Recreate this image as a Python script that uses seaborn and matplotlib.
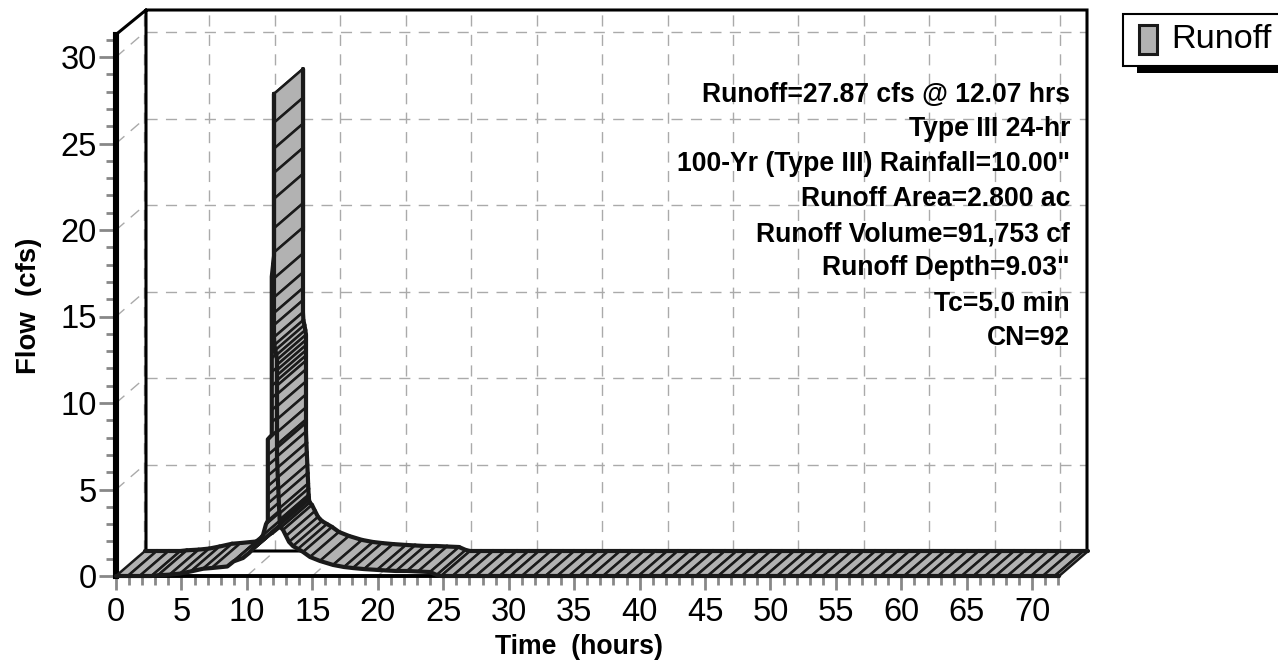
import matplotlib
matplotlib.use("Agg")
import matplotlib.pyplot as plt
from matplotlib.patches import Rectangle
import pandas as pd
import seaborn as sns

# hydrograph, one entry per drawn segment boundary
rise_hours = [0.0, 0.9, 1.8, 2.7, 3.2, 4.1, 4.9, 5.7, 6.65, 7.3, 8.5, 9.0, 9.7, 10.2, 10.7, 11.23, 11.46,
              11.6, 11.6, 11.6, 11.6, 11.6, 11.6, 11.6, 11.6, 11.6, 11.9, 11.9, 11.9, 11.9, 11.9, 11.9,
              11.9, 11.9, 11.9, 11.9, 12.07, 12.07]
rise_cfs = [0.0, 0.0, 0.0, 0.0, 0.04, 0.08, 0.14, 0.26, 0.42, 0.46, 0.55, 0.85, 1.04, 1.35, 1.8, 2.37, 3.0,
            3.2, 3.7, 4.2, 4.7, 5.2, 5.8, 6.4, 7.0, 7.9, 8.15, 8.9, 9.6, 10.3, 11.0, 11.8,
            12.6, 13.6, 15.0, 17.3, 18.5, 27.87]
fall_hours = [12.07, 12.07, 12.07, 12.07, 12.07, 12.07, 12.07, 12.07, 12.07, 12.07, 12.07, 12.1, 12.18, 12.25,
              12.3, 12.3, 12.3, 12.3, 12.3, 12.3, 12.3, 12.3, 12.3, 12.3, 12.3, 12.3, 12.3, 12.33,
              12.36, 12.4, 12.43, 12.46, 12.48, 12.5, 12.52, 12.53, 12.6, 12.76, 12.99, 13.22, 13.52, 13.9,
              14.29, 14.82, 15.58, 16.58, 17.42, 18.1, 18.95, 19.94, 20.63, 21.39, 22.23, 23.07, 23.99, 24.5,
              24.83]
fall_cfs = [26.2, 24.7, 23.3, 21.8, 20.1, 18.7, 17.2, 16.1, 15.2, 14.5, 13.8, 13.35, 13.06, 12.77,
            12.5, 12.2, 11.9, 11.6, 11.3, 11.0, 10.5, 9.8, 9.05, 8.3, 7.6, 7.4, 6.9, 6.25,
            5.7, 5.0, 4.5, 3.9, 3.6, 3.25, 3.1, 2.95, 2.8, 2.66, 2.31, 1.97, 1.73, 1.56,
            1.39, 1.1, 0.87, 0.64, 0.52, 0.46, 0.4, 0.35, 0.32, 0.29, 0.29, 0.26, 0.23, 0.06,
            0.0]
tail_hours = [25.7, 26.6, 27.5, 28.4, 29.3, 30.1, 31.0, 31.9, 32.8, 33.7, 34.6, 35.4, 36.3, 37.2, 38.1, 39.0,
              39.9, 40.7, 41.6, 42.5, 43.4, 44.3, 45.2, 46.0, 46.9, 47.8, 48.7, 49.6, 50.5, 51.3, 52.2, 53.1,
              54.0, 54.9, 55.8, 56.6, 57.5, 58.4, 59.3, 60.2, 61.1, 61.9, 62.8, 63.7, 64.6, 65.5, 66.4, 67.2,
              68.1, 69.0, 69.9, 70.8, 71.7, 72.05]
tail_cfs = [0.0] * len(tail_hours)

x_ticks = list(range(0, 75, 5))
x_minor = [h for h in range(0, 73) if h % 5]
y_ticks = list(range(0, 35, 5))
y_minor = [c for c in range(0, 32) if c % 5]
notes = ['Runoff=27.87 cfs @ 12.07 hrs', 'Type III 24-hr', '100-Yr (Type III) Rainfall=10.00"',
         'Runoff Area=2.800 ac', 'Runoff Volume=91,753 cf', 'Runoff Depth=9.03"', 'Tc=5.0 min', 'CN=92']
note_rows = [95, 129, 164, 199, 234, 268, 304, 338]

W, H = 1278, 662
PX_X, PX_Y = 13.09, 17.3  # pixels per hour / per cfs on the front plane
DEPTH_X, DEPTH_Y = 29 / PX_X, 25 / PX_Y
GRID = '#aaaaaa'
INK = '#1a1a1a'
FILL = '#b2b2b2'

sns.set_theme(style="white")
plt.rcParams['font.family'] = ['Liberation Sans', 'DejaVu Sans']
plt.rcParams['text.color'] = 'black'

fig = plt.figure(figsize=(W / 100, H / 100), dpi=100)
ax = fig.add_axes([116 / W, 1 - 576 / H, 971 / W, 566 / H])
ax.set_xlim(0, 971 / PX_X)
ax.set_ylim(0, 566 / PX_Y)
ax.patch.set_alpha(0)

# back wall grid and the dashed lines running back from the ticks
grid_style = dict(color=GRID, lw=1.0, dashes=(8, 6), zorder=1, clip_on=False)
x_end, y_end = 971 / PX_X, 566 / PX_Y
for h in x_ticks:
    ax.plot([h + 28 / PX_X] * 2, [DEPTH_Y, y_end], **grid_style)
    ax.plot([h, h + 28 / PX_X], [0, DEPTH_Y], **grid_style)
for c in y_ticks[1:]:
    ax.plot([DEPTH_X + 1 / PX_X, x_end], [c + DEPTH_Y] * 2, **grid_style)
    ax.plot([0, DEPTH_X], [c, c + DEPTH_Y], **grid_style)

# black frame of the box
frame_x = [0, DEPTH_X + 1 / PX_X, x_end, x_end, DEPTH_X + 1 / PX_X, DEPTH_X + 1 / PX_X]
top = 31.3
frame_y = [top, y_end, y_end, DEPTH_Y, DEPTH_Y, y_end]
ax.plot(frame_x, frame_y, color='black', lw=2.2, zorder=2, clip_on=False, solid_joinstyle='miter')

# ribbon, painted segment by segment so the later part hides the earlier
hours = rise_hours + fall_hours + tail_hours
cfs = rise_cfs + fall_cfs + tail_cfs
z = 3
for i in range(len(hours) - 1):
    x0, x1 = hours[i], hours[i + 1]
    y0, y1 = cfs[i], cfs[i + 1]
    ax.fill([x0, x1, x1 + DEPTH_X, x0 + DEPTH_X], [y0, y1, y1 + DEPTH_Y, y0 + DEPTH_Y],
            facecolor=FILL, edgecolor=INK, lw=1.8, zorder=z, clip_on=False, joinstyle='round')
    ax.plot([x0 + DEPTH_X, x1 + DEPTH_X], [y0 + DEPTH_Y, y1 + DEPTH_Y], color=INK, lw=3.0, zorder=z,
            clip_on=False, solid_capstyle='round')
    z += 0.01

curve = pd.DataFrame({'hours': hours, 'cfs': cfs})
sns.lineplot(data=curve, x='hours', y='cfs', estimator=None, sort=False, color=INK, lw=3.0,
             zorder=z, ax=ax, clip_on=False)

# axes
for name in ['top', 'right']:
    ax.spines[name].set_visible(False)
ax.spines['left'].set_linewidth(4.4)
ax.spines['left'].set_color('black')
ax.spines['left'].set_bounds(0, top)
ax.spines['bottom'].set_linewidth(2.8)
ax.spines['bottom'].set_color('black')
ax.spines['bottom'].set_bounds(0, 72)
ax.spines['left'].set_zorder(2)
ax.spines['bottom'].set_zorder(2)
ax.set_xticks(x_ticks)
ax.set_yticks(y_ticks)
ax.set_xticks(x_minor, minor=True)
ax.set_yticks(y_minor, minor=True)
ax.tick_params(axis='x', which='major', length=10, width=2.0, color='#888888', pad=5, labelsize=23.5,
               labelcolor='black', bottom=True)
ax.tick_params(axis='x', which='minor', length=6.5, width=2.0, color='#888888', bottom=True)
ax.tick_params(axis='y', which='major', length=12, width=2.0, color='#888888', pad=2, labelsize=23.5,
               labelcolor='black', left=True)
ax.tick_params(axis='y', which='minor', length=7.5, width=2.0, color='#888888', left=True)
ax.set_xlabel('')
ax.set_ylabel('')

fig.text(579 / W, 1 - 647 / H, 'Time  (hours)', fontsize=19.2, fontweight='bold', ha='center', va='center')
fig.text(29 / W, 1 - 306 / H, 'Flow  (cfs)', fontsize=19.8, fontweight='bold', rotation=90, ha='center', va='center')

for row, note in zip(note_rows, notes):
    fig.text(1070 / W, 1 - row / H, note, fontsize=19.1, fontweight='bold', ha='right', va='center', zorder=20)

# legend box, cut off by the right edge like the original
to_fig = fig.transFigure
fig.add_artist(Rectangle((1137 / W, 1 - 73 / H), 160 / W, 20 / H, transform=to_fig, facecolor='black', edgecolor='none'))
fig.add_artist(Rectangle((1123 / W, 1 - 66 / H), 170 / W, 52 / H, transform=to_fig, facecolor='white', edgecolor='black', lw=1.5))
fig.add_artist(Rectangle((1139 / W, 1 - 54 / H), 18 / W, 29 / H, transform=to_fig, facecolor=FILL, edgecolor=INK, lw=2.2))
fig.text(1171 / W, 1 - 39 / H, 'Runoff', fontsize=24.7, ha='left', va='center')

fig.savefig('out.png', dpi=100)
